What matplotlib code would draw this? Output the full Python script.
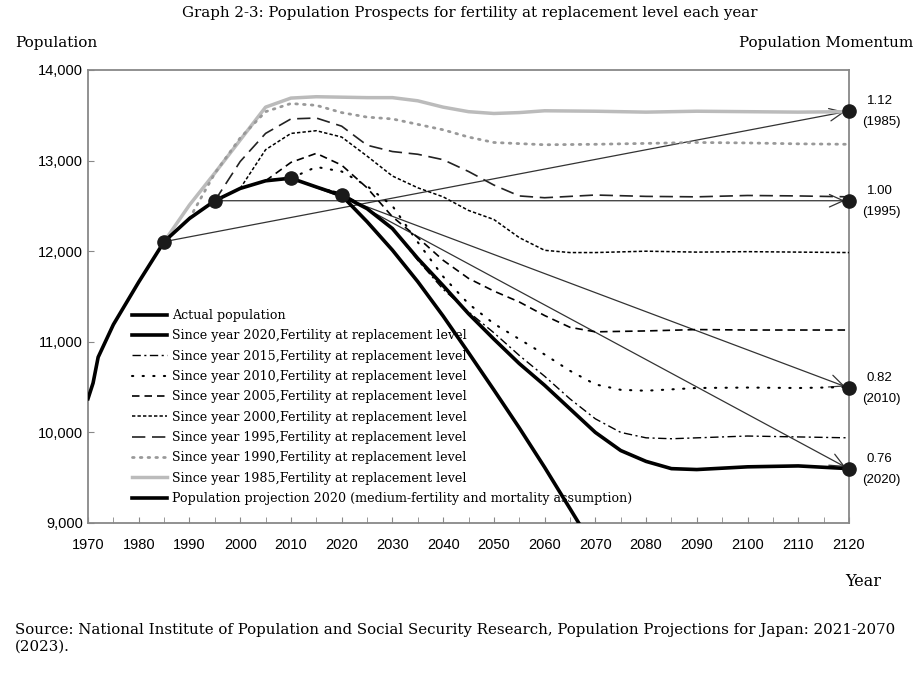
import numpy as np
import matplotlib.pyplot as plt
from matplotlib.ticker import MultipleLocator, FuncFormatter

# --- Data (thousands) ---
actual_years = [1970, 1971, 1972, 1975, 1980, 1985, 1990, 1995, 2000, 2005, 2010, 2015, 2020]
actual_pop = [10372, 10545, 10830, 11190, 11660, 12105, 12361, 12557, 12693, 12777, 12806, 12709, 12615]

rep1985_years = [1985, 1990, 1995, 2000, 2005, 2010, 2015, 2020, 2025, 2030, 2035, 2040, 2045, 2050, 2055, 2060, 2070, 2080, 2090, 2100, 2110, 2120]
rep1985_pop = [12105, 12510, 12863, 13227, 13590, 13690, 13705, 13700, 13695, 13695, 13660, 13590, 13540, 13520, 13530, 13550, 13545, 13535, 13545, 13540, 13535, 13540]

rep1990_years = [1990, 1995, 2000, 2005, 2010, 2015, 2020, 2025, 2030, 2035, 2040, 2045, 2050, 2060, 2070, 2080, 2090, 2100, 2110, 2120]
rep1990_pop = [12361, 12860, 13250, 13540, 13630, 13610, 13530, 13480, 13460, 13400, 13340, 13260, 13200, 13175, 13180, 13190, 13200, 13195, 13185, 13180]

rep1995_years = [1995, 2000, 2005, 2010, 2015, 2020, 2025, 2030, 2035, 2040, 2045, 2050, 2055, 2060, 2070, 2080, 2090, 2100, 2110, 2120]
rep1995_pop = [12557, 12990, 13300, 13460, 13470, 13380, 13170, 13100, 13070, 13010, 12880, 12730, 12610, 12590, 12620, 12605, 12600, 12615, 12610, 12600]

rep2000_years = [2000, 2005, 2010, 2015, 2020, 2025, 2030, 2035, 2040, 2045, 2050, 2055, 2060, 2065, 2070, 2080, 2090, 2100, 2110, 2120]
rep2000_pop = [12693, 13120, 13300, 13330, 13260, 13050, 12830, 12700, 12600, 12450, 12350, 12150, 12010, 11985, 11985, 12000, 11990, 11995, 11990, 11985]

rep2005_years = [2005, 2010, 2015, 2020, 2025, 2030, 2035, 2040, 2045, 2050, 2055, 2060, 2065, 2070, 2080, 2090, 2100, 2110, 2120]
rep2005_pop = [12777, 12980, 13080, 12950, 12700, 12380, 12150, 11900, 11700, 11560, 11440, 11290, 11160, 11110, 11120, 11135, 11130, 11130, 11130]

rep2010_years = [2010, 2015, 2020, 2025, 2030, 2035, 2040, 2045, 2050, 2055, 2060, 2065, 2070, 2075, 2080, 2090, 2100, 2110, 2120]
rep2010_pop = [12806, 12930, 12880, 12720, 12500, 12100, 11720, 11420, 11200, 11030, 10860, 10680, 10530, 10470, 10460, 10490, 10495, 10490, 10500]

rep2015_years = [2015, 2020, 2025, 2030, 2035, 2040, 2045, 2050, 2055, 2060, 2065, 2070, 2075, 2080, 2085, 2090, 2100, 2110, 2120]
rep2015_pop = [12709, 12640, 12480, 12250, 11900, 11580, 11330, 11100, 10850, 10620, 10370, 10150, 10000, 9940, 9930, 9940, 9960, 9950, 9940]

rep2020_years = [2020, 2025, 2030, 2035, 2040, 2045, 2050, 2055, 2060, 2065, 2070, 2075, 2080, 2085, 2090, 2100, 2110, 2120]
rep2020_pop = [12615, 12470, 12250, 11920, 11620, 11310, 11030, 10760, 10520, 10260, 10000, 9800, 9680, 9600, 9590, 9620, 9630, 9600]

proj_years = [2020, 2025, 2030, 2035, 2040, 2045, 2050, 2055, 2060, 2065, 2070]
proj_pop = [12615, 12326, 12012, 11664, 11284, 10880, 10469, 10051, 9615, 9159, 8700]

# momentum: start year, ratio label, value at 2120
mom_start = [1985, 1995, 2010, 2020]
mom_ratio = ["1.12", "1.00", "0.82", "0.76"]
mom_end = [13547, 12557, 10490, 9596]
end_year = 2120

serif = ["DejaVu Serif"]
sans = ["Liberation Sans", "DejaVu Sans"]

fig = plt.figure(figsize=(9.21, 6.74), dpi=100)
ax = fig.add_axes([88 / 921, 1 - 523 / 674, (849 - 88) / 921, (523 - 70) / 674])

# arrows from each start point to the momentum value at 2120
start_pop = dict(zip(actual_years, actual_pop))
for yr, endv in zip(mom_start, mom_end):
    ax.annotate("", xy=(end_year, endv), xytext=(yr, start_pop[yr]),
                arrowprops=dict(arrowstyle="->,head_length=1.0,head_width=0.45",
                                lw=0.9, color="#333333", shrinkA=0, shrinkB=3),
                zorder=2)

ax.plot(rep1985_years, rep1985_pop, color="#bbbbbb", lw=2.5, zorder=3,
        label="Since year 1985,Fertility at replacement level")
ax.plot(rep1990_years, rep1990_pop, color="#999999", lw=2, ls=(0, (0.6, 2.2)), dash_capstyle="round",
        zorder=3, label="Since year 1990,Fertility at replacement level")
ax.plot(rep1995_years, rep1995_pop, color="#222222", lw=1.2, ls=(0, (8, 4)), zorder=3,
        label="Since year 1995,Fertility at replacement level")
ax.plot(rep2000_years, rep2000_pop, color="black", lw=1.1, ls=(0, (2.2, 1.4)), zorder=3,
        label="Since year 2000,Fertility at replacement level")
ax.plot(rep2005_years, rep2005_pop, color="black", lw=1.2, ls=(0, (4.5, 3)), zorder=3,
        label="Since year 2005,Fertility at replacement level")
ax.plot(rep2010_years, rep2010_pop, color="black", lw=1.5, ls=(0, (0.6, 4.5)), dash_capstyle="round",
        zorder=3, label="Since year 2010,Fertility at replacement level")
ax.plot(rep2015_years, rep2015_pop, color="black", lw=1.0, ls=(0, (6, 2.5, 1.5, 2.5)), zorder=3,
        label="Since year 2015,Fertility at replacement level")
ax.plot(rep2020_years, rep2020_pop, color="black", lw=2.6, zorder=4,
        label="Since year 2020,Fertility at replacement level")
ax.plot(proj_years, proj_pop, color="black", lw=2.6, zorder=4,
        label="Population projection 2020 (medium-fertility and mortality assumption)")
ax.plot(actual_years, actual_pop, color="black", lw=2.6, zorder=4, label="Actual population")

# markers
ax.plot(mom_start, [start_pop[y] for y in mom_start], "o", color="#1a1a1a", ms=9.5, zorder=6)
ax.plot([end_year] * len(mom_end), mom_end, "o", color="#1a1a1a", ms=9.5, zorder=6, clip_on=False)

for lab, yr, endv in zip(mom_ratio, mom_start, mom_end):
    ax.annotate(lab, xy=(end_year, endv), xytext=(22, 7), textcoords="offset points",
                ha="center", va="center", fontsize=9.5, family=sans, annotation_clip=False)
    ax.annotate("(%d)" % yr, xy=(end_year, endv), xytext=(23, -8), textcoords="offset points",
                ha="center", va="center", fontsize=9.5, family=sans, annotation_clip=False)

ax.set_xlim(1970, 2120)
ax.set_ylim(9000, 14000)
ax.xaxis.set_major_locator(MultipleLocator(10))
ax.xaxis.set_minor_locator(MultipleLocator(5))
ax.yaxis.set_major_locator(MultipleLocator(1000))
ax.yaxis.set_major_formatter(FuncFormatter(lambda v, p: f"{int(v):,}"))
ax.tick_params(axis="x", which="both", direction="in", length=4, color="#888888", pad=11)
ax.tick_params(axis="y", direction="in", length=4, color="#888888", pad=3.5)
ax.tick_params(labelsize=10.5)
for lbl in ax.get_xticklabels() + ax.get_yticklabels():
    lbl.set_family(sans)
for s in ax.spines.values():
    s.set_color("#888888")
    s.set_linewidth(1.3)

handles, labels = ax.get_legend_handles_labels()
order = [9, 7, 6, 5, 4, 3, 2, 1, 0, 8]
leg = fig.legend([handles[i] for i in order], [labels[i] for i in order],
                 loc="upper left", bbox_to_anchor=(127 / 921, 1 - 304 / 674),
                 frameon=False, handlelength=2.8, handletextpad=0.4,
                 labelspacing=0.58, borderaxespad=0, prop={"family": serif, "size": 9.1})
leg.set_zorder(10)

fig.text(470 / 921, 1 - 13 / 674, "Graph 2-3: Population Prospects for fertility at replacement level each year",
         ha="center", va="center", fontsize=10.8, family=serif)
fig.text(15 / 921, 1 - 43 / 674, "Population", ha="left", va="center", fontsize=11, family=serif)
fig.text(913 / 921, 1 - 43 / 674, "Population Momentum", ha="right", va="center", fontsize=10.9, family=serif)
fig.text(881 / 921, 1 - 582 / 674, "Year", ha="right", va="center", fontsize=11.5, family=serif)
fig.text(15 / 921, 1 - 630 / 674,
         "Source: National Institute of Population and Social Security Research, Population Projections for Japan: 2021-2070",
         ha="left", va="center", fontsize=10.8, family=serif)
fig.text(15 / 921, 1 - 647 / 674, "(2023).", ha="left", va="center", fontsize=10.8, family=serif)

fig.savefig("out.png", dpi=100)
